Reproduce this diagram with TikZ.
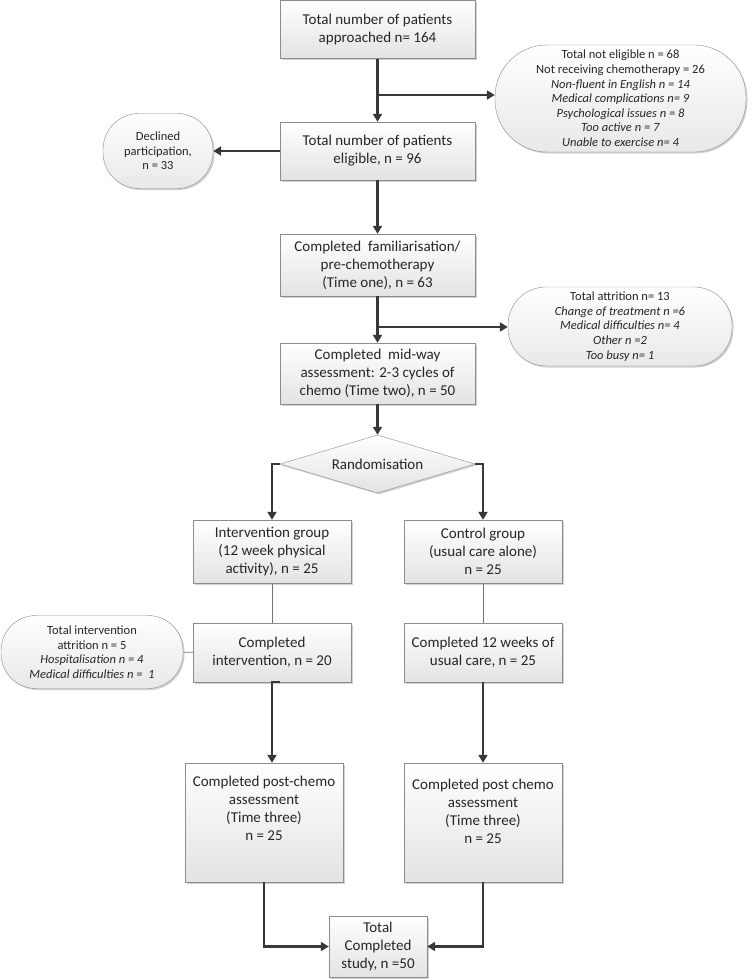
\documentclass[tikz,border=0pt]{standalone}
\usepackage{fontspec}
\setmainfont{Carlito}
\usetikzlibrary{arrows.meta,shapes.geometric,shadows}

\newcommand{\boxsize}{\fontsize{15}{18}\selectfont}
\newcommand{\notesize}{\fontsize{12.5}{14.6}\selectfont}

\begin{document}
\begin{tikzpicture}[
        x=1pt, y=1pt,
        >={Triangle[length=8pt,width=9pt]},
        box/.style={
            rectangle,
            draw=black!45,
            top color=white,
            bottom color=black!11,
            drop shadow={shadow xshift=1.5pt, shadow yshift=-1.5pt, fill=black, opacity=0.18},
            minimum width=195pt,
            minimum height=58pt,
            align=center,
            inner sep=2pt,
            text=black!85,
            font=\boxsize
        },
        note/.style={
            rectangle,
            draw=black!45,
            top color=white,
            bottom color=black!9,
            drop shadow={shadow xshift=1.5pt, shadow yshift=-1.5pt, fill=black, opacity=0.18},
            align=center,
            inner sep=2pt,
            text=black!85,
            font=\notesize
        },
        arrow/.style={
            ->,
            line width=2.2pt,
            draw=black!78
        },
        link/.style={
            line width=0.8pt,
            draw=black!55
        }
    ]

    \useasboundingbox (0,0) rectangle (752,-980);

    % main column
    \node[box] (approached) at (377.5,-29.5) {Total number of patients\\approached n= 164};
    \node[box] (eligible)   at (377.5,-151)  {Total number of patients\\eligible, n = 96};
    \node[box, minimum height=62pt] (familiar) at (377.5,-265) {Completed\ \ familiarisation/\\pre-chemotherapy\\(Time one), n = 63};
    \node[box, minimum height=61pt] (midway)   at (377.5,-373.5) {Completed\ \ mid-way\\assessment: 2-3 cycles of\\chemo (Time two), n = 50};
    \node[box, diamond, aspect=3.3, minimum width=195pt, minimum height=58pt, inner sep=0pt] (rand) at (377.5,-464) {Randomisation};

    % side notes
    \node[note, minimum width=251pt, minimum height=107pt, rounded corners=52pt] (noteligible) at (620.5,-98.5)
        {Total not eligible n = 68\\Not receiving chemotherapy = 26\\\textit{Non-fluent in English n = 14}\\\textit{Medical complications n= 9}\\\textit{Psychological issues n = 8}\\\textit{Too active n = 7}\\\textit{Unable to exercise n= 4}};
    \node[note, minimum width=110pt, minimum height=75pt, rounded corners=36pt] (declined) at (158,-151)
        {Declined\\participation,\\n = 33};
    \node[note, minimum width=224pt, minimum height=79pt, rounded corners=38pt] (attrition) at (620,-326.5)
        {Total attrition n= 13\\\textit{Change of treatment n =6}\\\textit{Medical difficulties n= 4}\\\textit{Other n =2}\\\textit{Too busy n= 1}};
    \node[note, minimum width=182pt, minimum height=73pt, rounded corners=35pt] (intattr) at (92,-652)
        {Total intervention\\attrition n = 5\\\textit{Hospitalisation n = 4}\\\textit{Medical difficulties n =\ \ 1}};

    % two arms
    \node[box, minimum width=158pt, minimum height=63pt] (intgroup)  at (272,-551.5) {Intervention group\\(12 week physical\\activity), n = 25};
    \node[box, minimum width=158pt, minimum height=63pt] (ctrlgroup) at (483,-551.5) {Control group\\(usual care alone)\\n = 25};
    \node[box, minimum width=158pt, minimum height=59pt] (compint)   at (272,-652.5) {Completed\\intervention, n = 20};
    \node[box, minimum width=158pt, minimum height=59pt] (compctrl)  at (483,-652.5) {Completed 12 weeks of\\usual care, n = 25};
    \node[box, minimum width=158pt, minimum height=119pt] (postint)  at (264,-822.5) {Completed post-chemo\\assessment\\(Time three)\\n = 25\\[10pt]};
    \node[box, minimum width=158pt, minimum height=119pt] (postctrl) at (483,-822.5) {Completed post chemo\\assessment\\(Time three)\\n = 25\\[4pt]};
    \node[box, minimum width=98pt, minimum height=61pt] (total) at (378,-946.5) {Total\\Completed\\study, n =50};

    % branch points
    \coordinate (b1) at (377.5,-95);
    \coordinate (b2) at (377.5,-327);

    \draw[arrow] (approached) -- (eligible);
    \draw[arrow] (b1) -- (b1 -| noteligible.west);
    \draw[arrow] (eligible) -- (declined);
    \draw[arrow] (eligible) -- (familiar);
    \draw[arrow] (familiar) -- (midway);
    \draw[arrow] (b2) -- (b2 -| attrition.west);
    \draw[arrow] (midway) -- (rand);
    \draw[arrow] (rand.west) -| (intgroup.north);
    \draw[arrow] (rand.east) -| (ctrlgroup.north);

    \draw[link] (intgroup) -- (compint);
    \draw[link] (ctrlgroup) -- (compctrl);
    \draw[link] (intattr) -- (compint);

    \draw[arrow] ([xshift=8pt]compint.south) -- (compint.south) -- (compint.south |- postint.north);
    \draw[arrow] (compctrl) -- (postctrl);
    \draw[arrow] (postint.south) |- (total.west);
    \draw[arrow] (postctrl.south) |- (total.east);

\end{tikzpicture}
\end{document}
